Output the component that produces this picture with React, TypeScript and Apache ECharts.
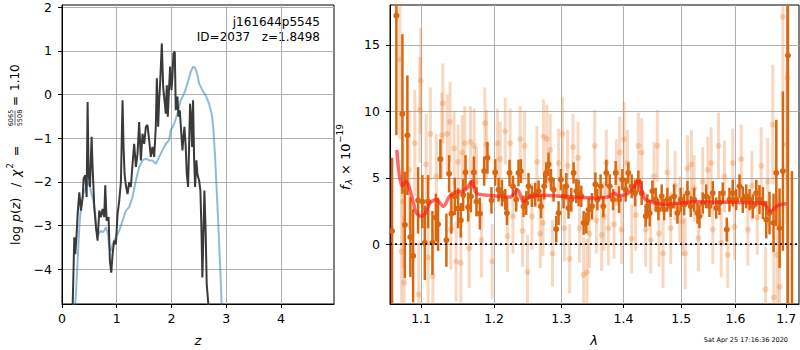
import React, { useEffect, useRef } from "react";
import * as echarts from "echarts";

// ---------- Left panel: log p(z) ----------
const zTicks = [0, 1, 2, 3, 4];
const logpTicks = [-4, -3, -2, -1, 0, 1, 2];

const zBlack = [0.185, 0.195, 0.225, 0.243, 0.267, 0.286, 0.316, 0.347, 0.377, 0.395,
  0.426, 0.450, 0.468, 0.486, 0.511, 0.541, 0.559, 0.590, 0.620, 0.650,
  0.681, 0.711, 0.742, 0.772, 0.790, 0.815, 0.851, 0.875, 0.900, 0.924,
  0.954, 0.985, 1.015, 1.046, 1.076, 1.106, 1.125, 1.143, 1.167, 1.198,
  1.228, 1.258, 1.289, 1.319, 1.350, 1.380, 1.410, 1.441, 1.471, 1.502,
  1.532, 1.562, 1.593, 1.623, 1.653, 1.684, 1.714, 1.733, 1.757, 1.775,
  1.793, 1.824, 1.848, 1.872, 1.897, 1.915, 1.933, 1.957, 1.976, 2.000,
  2.018, 2.036, 2.061, 2.079, 2.109, 2.128, 2.152, 2.176, 2.201, 2.219,
  2.237, 2.261, 2.280, 2.304, 2.322, 2.340, 2.359, 2.377, 2.395, 2.413,
  2.432, 2.456, 2.474, 2.505, 2.529, 2.547, 2.565, 2.584, 2.602, 2.626,
  2.644, 2.675, 2.70];
const logpBlack = [-6, -4.82, -3.27, -3.66, -3.20, -2.74, -2.24, -2.66, -2.35, -1.93,
  -1.85, -2.35, -0.17, -1.82, -2.12, -0.97, -1.66, -2.58, -3.04, -3.35,
  -2.66, -2.81, -2.62, -2.81, -2.08, -2.89, -2.81, -3.81, -4.08, -3.66,
  -3.35, -3.43, -2.74, -2.43, -2.01, -0.13, -1.20, -1.82, -2.08, -2.28,
  -2.01, -2.12, -1.59, -1.13, -1.66, -1.36, -0.63, -1.51, -0.90, -1.13,
  -0.74, -0.70, -1.05, -1.43, -1.20, -1.43, -0.74, 0.37, -0.74, -0.13,
  0.25, 1.17, 0.18, -0.13, -0.44, 0.21, -0.51, 0.18, 0.64, 0.10,
  0.41, 0.94, 0.98, -0.36, -0.05, -0.51, -0.36, -0.82, -1.28, -0.97,
  -0.74, -1.20, -1.82, -2.12, -1.20, -0.21, -0.51, -1.20, -0.13, -1.43,
  -2.12, -1.51, -1.82, -1.97, -2.20, -3.04, -4.19, -3.20, -2.20, -3.20,
  -4.34, -4.82, -6];

const zBlue = [0.235, 0.243, 0.286, 0.316, 0.347, 0.389, 0.438, 0.486, 0.511, 0.541,
  0.571, 0.608, 0.632, 0.669, 0.711, 0.742, 0.772, 0.802, 0.839, 0.863,
  0.894, 0.924, 0.985, 1.046, 1.106, 1.167, 1.228, 1.289, 1.350, 1.410,
  1.471, 1.532, 1.593, 1.653, 1.714, 1.775, 1.836, 1.897, 1.957, 1.988,
  2.049, 2.109, 2.170, 2.231, 2.292, 2.353, 2.395, 2.432, 2.468, 2.505,
  2.565, 2.626, 2.687, 2.736, 2.766, 2.796, 2.827, 2.857, 2.888, 2.918,
  2.94];
const logpBlue = [-6, -4.82, -3.81, -3.04, -2.58, -2.28, -2.12, -2.01, -2.12, -2.28,
  -2.43, -2.74, -3.12, -3.20, -3.12, -3.16, -3.12, -3.04, -3.20, -3.50,
  -3.58, -3.43, -3.27, -3.12, -2.89, -2.66, -2.58, -2.35, -1.97, -1.66,
  -1.51, -1.47, -1.51, -1.51, -1.59, -1.43, -1.28, -1.13, -1.05, -0.82,
  -0.67, -0.44, -0.13, 0.02, 0.25, 0.52, 0.64, 0.61, 0.48, 0.25,
  0.10, -0.02, -0.21, -0.45, -0.8, -1.4, -2.2, -3.0, -3.9, -4.82,
  -6];

// ---------- Right panel: spectrum ----------
const lamTicks = [1.1, 1.2, 1.3, 1.4, 1.5, 1.6, 1.7];
const fluxTicks = [0, 5, 10, 15];

const lamDark = [1.0626, 1.0681, 1.0758, 1.0789, 1.0822, 1.0861, 1.0896, 1.0961, 1.1017, 1.1049,
  1.1093, 1.1150, 1.1195, 1.1225, 1.1256, 1.1337, 1.1374, 1.1405, 1.1451, 1.1496,
  1.1534, 1.1566, 1.1598, 1.1635, 1.1673, 1.1714, 1.1751, 1.1799, 1.1859, 1.1906,
  1.1963, 1.2016, 1.2064, 1.2113, 1.2161, 1.2185, 1.2223, 1.2273, 1.2321, 1.2355,
  1.2390, 1.2429, 1.2469, 1.2503, 1.2554, 1.2604, 1.2653, 1.2690, 1.2740, 1.2770,
  1.2805, 1.2842, 1.2882, 1.2923, 1.2959, 1.2996, 1.3036, 1.3079, 1.3114, 1.3157,
  1.3193, 1.3236, 1.3272, 1.3315, 1.3352, 1.3395, 1.3432, 1.3486, 1.3540, 1.3572,
  1.3625, 1.3669, 1.3718, 1.3773, 1.3829, 1.3872, 1.3928, 1.3983, 1.4038, 1.4083,
  1.4139, 1.4196, 1.4252, 1.4308, 1.4377, 1.4406, 1.4446, 1.4493, 1.4550, 1.4596,
  1.4654, 1.4696, 1.4754, 1.4812, 1.4873, 1.4932, 1.4990, 1.5052, 1.5111, 1.5170,
  1.5232, 1.5292, 1.5329, 1.5389, 1.5452, 1.5513, 1.5574, 1.5638, 1.5699, 1.5761,
  1.5836, 1.5887, 1.5950, 1.6015, 1.6078, 1.6142, 1.6208, 1.6272, 1.6336, 1.6402,
  1.6466, 1.6532, 1.6599, 1.6664, 1.6744, 1.6799, 1.6865, 1.6932, 1.7034, 1.7115];
const fluxDark = [1.0, 17.2, 9.8, 1.46, 8.2, 0.53, -0.88, 3.3, 3.2, 0.1,
  3.2, 0.1, 2.0, 1.5, 6.4, 0.3, 5.3, 2.3, 3.6, 2.7,
  1.8, 3.7, 5.4, 2.8, 3.6, 5.4, 3.2, 2.3, 5.5, 6.5,
  3.3, 5.4, 4.1, 3.85, 3.35, 2.34, 5.36, 4.36, 3.35, 5.36,
  5.5, 2.85, 3.1, 4.36, 3.6, 3.73, 4.0, 2.85, 4.36, 5.36,
  6.0, 4.86, 4.1, 1.13, 2.34, 4.86, 3.6, 4.36, 2.72, 3.35,
  5.36, 4.0, 3.85, 3.6, 1.6, 1.6, 2.6, 2.85, 4.5, 3.35,
  4.36, 2.85, 5.36, 4.36, 3.35, 5.36, 3.35, 4.86, 4.1, 5.36,
  4.36, 3.85, 4.74, 3.85, 2.1, 2.85, 2.34, 4.0, 3.35, 2.6,
  3.6, 2.6, 3.35, 2.85, 3.6, 2.34, 3.35, 2.97, 3.85, 2.85,
  3.35, 2.34, 2.1, 3.1, 3.6, 2.85, 3.85, 2.72, 3.1, 3.85,
  1.1, 3.35, 3.85, 3.35, 4.36, 3.35, 3.6, 3.35, 2.85, 3.85,
  3.35, 3.1, 1.84, 2.34, 1.6, 5.36, 1.2, 5.5, 14.2, -5.5];
const errDark = [5.5, 9, 6, 4, 4.5, 3, 3.5, 2.5, 2, 2.8,
  2, 2.4, 1.8, 2, 1.5, 2, 1.4, 1.5, 1.4, 1.5,
  1.3, 1.2, 1.3, 1.1, 1.2, 1.2, 1.1, 1.2, 1.1, 1.2,
  1.0, 1.0, 0.9, 1.0, 0.8, 0.9, 1.0, 0.8, 0.9, 1.0,
  0.9, 0.8, 0.9, 1.0, 0.8, 0.9, 0.8, 0.9, 1.0, 0.8,
  0.9, 0.8, 0.9, 1.0, 0.9, 0.8, 0.9, 1.0, 0.8, 0.9,
  0.8, 0.9, 1.0, 0.8, 0.9, 0.8, 0.9, 1.0, 0.9, 0.8,
  0.9, 0.8, 1.0, 0.9, 0.8, 0.9, 1.0, 0.8, 0.9, 0.8,
  0.9, 1.0, 0.8, 0.9, 0.8, 0.9, 1.0, 0.8, 0.9, 0.8,
  0.9, 0.8, 0.9, 0.8, 0.9, 0.8, 0.9, 0.8, 0.9, 0.8,
  0.9, 0.8, 0.9, 0.8, 0.9, 0.8, 0.9, 0.8, 0.9, 0.8,
  0.9, 0.9, 1.0, 0.8, 0.9, 1.0, 0.9, 0.8, 0.9, 1.0,
  1.1, 1.2, 1.4, 1.6, 2.2, 4, 3, 6, 20, 11];

const lamLight = [1.0724, 1.0745, 1.0767, 1.0780, 1.0844, 1.0918, 1.0970, 1.0983, 1.0996, 1.1066,
  1.1093, 1.1123, 1.1155, 1.1203, 1.1275, 1.1289, 1.1347, 1.1387, 1.1397, 1.1442,
  1.1469, 1.1496, 1.1534, 1.1552, 1.1589, 1.1649, 1.1667, 1.1719, 1.1751, 1.1821,
  1.1869, 1.1892, 1.1973,
  1.2049, 1.2088, 1.2161, 1.2194, 1.2233, 1.2273, 1.2380, 1.2414, 1.2444, 1.2488,
  1.2554, 1.2629, 1.2679, 1.2720, 1.2729, 1.2780, 1.2831, 1.2866, 1.2959, 1.3021,
  1.3048, 1.3099, 1.3130, 1.3184, 1.3263, 1.3288, 1.3352, 1.3406, 1.3443, 1.3529,
  1.3556, 1.3641, 1.3680, 1.3718, 1.3751, 1.3845, 1.3883, 1.3938, 1.3971, 1.4011,
  1.4066, 1.4139, 1.4206, 1.4252, 1.4308, 1.4377, 1.4463, 1.4521, 1.4579, 1.4608,
  1.4678, 1.4754, 1.4812, 1.4890, 1.4972, 1.5021, 1.5069, 1.5111, 1.5183, 1.5232,
  1.5310, 1.5389, 1.5482, 1.5544, 1.5574, 1.5681, 1.5731, 1.5793, 1.5855, 1.5950,
  1.5982, 1.6111, 1.6239, 1.6317, 1.6422, 1.6500, 1.6585, 1.6631, 1.6730, 1.6750,
  1.6818, 1.6865, 1.6932, 1.7010, 1.7022];
const fluxLight = [13.9, -0.55, 3.2, -2.9, 5.6, 7.6, -3.8, 10.1, 12.3, 6.0,
  -1.0, 8.3, -2.4, 5.1, 8.2, 10.6, 8.3, 9.2, 1.1, 7.2,
  -1.3, 6.2, -1.4, 6.9, 7.6, -0.3, 7.7, 7.4, 4.7, 0.3,
  9.1, 7.5, -1.3,
  7.6, 6.4, 8.5, 0.6, 7.6, 2.1, 7.9, 1.0, 7.4, -2.1,
  2.1, 6.2, 0.8, 1.6, 8.1, 7.9, 7.1, -0.7, 6.1, 8.3,
  1.2, 5.9, -1.1, 7.3, 6.5, 1.2, -2.3, -2.1, 0.8, 7.4,
  1.8, 0.7, 2.1, 6.1, 1.2, 1.5, 5.4, 6.9, 1.1, 7.9,
  6.1, 0.4, 2.2, 7.4, 6.9, 1.1, 0.3, 5.1, 7.4, 0.8,
  -0.7, 5.4, 1.2, 4.4, 2.6, 1.7, -0.7, 5.7, 6.0, 4.2,
  0.45, 4.7, 5.6, 6.1, 1.1, 7.4, 0.1, 5.1, -0.8, 6.1,
  1.3, 6.4, 1.1, 4.4, 2.0, 5.9, -3.4, 4.7, 9.0, -4.0,
  -0.8, -3.2, 17.1, 7.5, 12.5];
const errLight = [6, 5, 5, 5, 4.5, 4, 4, 4, 4, 3.8,
  3.5, 3.5, 3.5, 3.2, 3.2, 3, 3, 3, 3, 2.8,
  3, 2.8, 3, 2.8, 2.8, 3, 2.7, 2.8, 2.6, 2.8,
  2.7, 2.6, 2.8,
  2.6, 2.8, 2.5, 2.7, 2.6, 2.8, 2.5, 2.7, 2.6, 2.8,
  2.5, 2.7, 2.6, 2.5, 2.8, 2.6, 2.7, 2.5, 2.6, 2.8,
  2.5, 2.7, 2.6, 2.5, 2.7, 2.6, 2.8, 2.5, 2.6, 2.7,
  2.5, 2.7, 2.6, 2.5, 2.8, 2.6, 2.5, 2.7, 2.6, 2.8,
  2.5, 2.6, 2.7, 2.5, 2.6, 2.8, 2.5, 2.6, 2.7, 2.5,
  2.6, 2.5, 2.7, 2.6, 2.5, 2.6, 2.7, 2.5, 2.6, 2.5,
  2.5, 2.6, 2.5, 2.7, 2.6, 2.5, 2.6, 2.7, 2.5, 2.6,
  2.5, 2.6, 2.7, 2.6, 2.8, 2.9, 3.2, 3.3, 4.5, 4,
  4.5, 5, 7, 6, 8];

const lamModel = [1.0686, 1.0750, 1.0805, 1.0879, 1.0934, 1.0996, 1.1053, 1.1119, 1.1199, 1.1297,
  1.1378, 1.1456, 1.1570, 1.1639, 1.1686, 1.1746, 1.1826, 1.1992, 1.2233, 1.2340,
  1.2429, 1.2528, 1.2729, 1.3036, 1.3567, 1.3784, 1.3839, 1.3921, 1.4033, 1.4145,
  1.4257, 1.4343, 1.4458, 1.4689, 1.5287, 1.5906, 1.6520, 1.6684, 1.6851, 1.7006];
const fluxModel = [7.1, 4.4, 4.7, 3.6, 2.4, 2.1, 2.3, 3.1, 3.35, 2.85,
  3.6, 3.9, 4.0, 4.35, 4.75, 3.85, 3.73, 3.65, 3.55, 4.1,
  3.2, 3.6, 3.68, 3.6, 3.48, 3.6, 3.85, 3.65, 3.73, 4.1,
  4.75, 3.5, 3.2, 3.0, 3.2, 3.15, 3.1, 2.5, 2.95, 3.05];

const FONT = "DejaVu Sans";
const GRID_COLOR = "#b0b0b0";
const DARK = "#da670f";
const LIGHT = "rgba(232,125,45,0.3)";

const fmtNum = (v: number) => (v < 0 ? "\u2212" + Math.abs(v) : String(v));

function errSeries(lam: number[], flux: number[], err: number[], color: string, barW: number, r: number) {
  const data = lam.map((l, i) => [Math.log(l), flux[i], err[i]]);
  return {
    type: "custom",
    xAxisIndex: 1,
    yAxisIndex: 1,
    clip: true,
    encode: { x: 0, y: 1 },
    data,
    renderItem: (_p: any, api: any) => {
      const x = api.value(0);
      const y = api.value(1);
      const e = api.value(2);
      const top = api.coord([x, y + e]);
      const bot = api.coord([x, y - e]);
      const c = api.coord([x, y]);
      return {
        type: "group",
        children: [
          { type: "line", shape: { x1: top[0], y1: top[1], x2: bot[0], y2: bot[1] }, style: { stroke: color, lineWidth: barW } },
          { type: "circle", shape: { cx: c[0], cy: c[1], r }, style: { fill: color } },
        ],
      };
    },
  };
}

const txt = (x: number, y: number, text: string, size: number, align = "left", italic = false) => ({
  type: "text", x, y,
  style: { text, fontFamily: FONT, fontSize: size, fontStyle: italic ? "italic" : "normal", fill: "#000", align, verticalAlign: "middle" },
});

export default function App() {
  const ref = useRef<HTMLDivElement>(null);
  useEffect(() => {
    if (!ref.current) return;
    const chart = echarts.init(ref.current, undefined, { renderer: "svg" });
    const lnMin = Math.log(1.06);
    const lnMax = Math.log(1.726);
    const lnTicks = lamTicks.map((t) => Math.log(t));
    const axisCommon = {
      axisLine: { show: true, onZero: false, lineStyle: { color: "#000", width: 1 } },
      splitLine: { show: true, lineStyle: { color: GRID_COLOR, width: 1 } },
    };
    const labelStyle = { color: "#000", fontFamily: FONT, fontSize: 12.5 };
    const option: any = {
      animation: false,
      grid: [
        { left: 62, top: 5, width: 272, height: 299, show: true, borderColor: "#000", borderWidth: 1 },
        { left: 390, top: 5, width: 409, height: 299, show: true, borderColor: "#000", borderWidth: 1 },
      ],
      xAxis: [
        {
          type: "value", gridIndex: 0, min: 0, max: 4.97, ...axisCommon,
          axisTick: { show: true, length: 4, lineStyle: { color: "#000" }, customValues: zTicks },
          axisLabel: { ...labelStyle, margin: 8, customValues: zTicks, formatter: fmtNum },
        },
        {
          type: "value", gridIndex: 1, min: lnMin, max: lnMax, ...axisCommon,
          axisTick: { show: true, length: 4, lineStyle: { color: "#000" }, customValues: lnTicks },
          axisLabel: { ...labelStyle, margin: 8, customValues: lnTicks, formatter: (v: number) => Math.exp(v).toFixed(1) },
        },
      ],
      yAxis: [
        {
          type: "value", gridIndex: 0, min: -4.8, max: 2.05, ...axisCommon,
          axisTick: { show: true, length: 4, lineStyle: { color: "#000" }, customValues: logpTicks },
          axisLabel: { ...labelStyle, margin: 10, customValues: logpTicks, formatter: fmtNum },
        },
        {
          type: "value", gridIndex: 1, min: -4.5, max: 18, ...axisCommon,
          axisTick: { show: true, length: 4, lineStyle: { color: "#000" }, customValues: fluxTicks },
          axisLabel: { ...labelStyle, margin: 10, customValues: fluxTicks, formatter: fmtNum },
        },
      ],
      series: [
        {
          type: "line", xAxisIndex: 0, yAxisIndex: 0, showSymbol: false, clip: true,
          data: zBlue.map((z, i) => [z, logpBlue[i]]),
          lineStyle: { color: "rgba(31,119,180,0.5)", width: 2 },
        },
        {
          type: "line", xAxisIndex: 0, yAxisIndex: 0, showSymbol: false, clip: true,
          data: zBlack.map((z, i) => [z, logpBlack[i]]),
          lineStyle: { color: "#3a3a3a", width: 2 },
        },
        errSeries(lamLight, fluxLight, errLight, LIGHT, 3, 3),
        errSeries(lamDark, fluxDark, errDark, DARK, 2.5, 3),
        {
          type: "line", xAxisIndex: 1, yAxisIndex: 1, showSymbol: false, clip: true, smooth: 0.3,
          data: lamModel.map((l, i) => [Math.log(l), fluxModel[i]]),
          lineStyle: { color: "rgba(255,25,25,0.65)", width: 3.5 },
        },
        {
          type: "line", xAxisIndex: 1, yAxisIndex: 1, showSymbol: false, clip: true,
          data: [[lnMin, 0], [lnMax, 0]],
          lineStyle: { color: "#000", width: 1.8, type: [2, 3] },
        },
      ],
      graphic: [
        txt(320, 22, "j161644p5545", 12, "right"),
        txt(320, 37, "ID=2037   z=1.8498", 12, "right"),
        txt(198, 340, "z", 13, "center", true),
        txt(594, 340, "λ", 13, "center", true),
        txt(788, 339.5, "Sat Apr 25 17:16:36 2020", 6.5, "right"),
        {
          type: "group", x: 15, y: 245, rotation: Math.PI / 2,
          children: [
            {
              type: "text", x: 0, y: 0,
              style: {
                text: "log {i|p}(" + "{i|z})",
                rich: { i: { fontStyle: "italic", fontFamily: FONT, fontSize: 12.5 } },
                fontFamily: FONT, fontSize: 12.5, fill: "#000", align: "left", verticalAlign: "middle",
              },
            },
            txt(60, 0, "/", 12.5, "center"),
            txt(68, 0, "χ", 12.5, "left", true),
            txt(76.5, -5, "2", 8.5, "left"),
            txt(94, 0, "=", 12.5, "center"),
            txt(127, -4.5, "6065", 6.5, "center"),
            { type: "line", shape: { x1: 119.5, y1: 0, x2: 134.5, y2: 0 }, style: { stroke: "#000", lineWidth: 0.6 } },
            txt(127, 4.5, "5508", 6.5, "center"),
            txt(144, 0, "=", 12, "center"),
            txt(154, 0, "1.10", 12, "left"),
          ],
        },
        {
          type: "group", x: 345, y: 190, rotation: Math.PI / 2,
          children: [
            txt(0, 0, "f", 13, "left", true),
            txt(5.5, 4, "λ", 9, "left", true),
            txt(15, 0, "× 10", 13, "left"),
            txt(47, -5, "−19", 9, "left"),
          ],
        },
      ],
    };
    chart.setOption(option);
    return () => chart.dispose();
  }, []);
  return <div ref={ref} style={{ position: "absolute", left: 0, top: 0, width: 800, height: 350, background: "#fff" }} />;
}
